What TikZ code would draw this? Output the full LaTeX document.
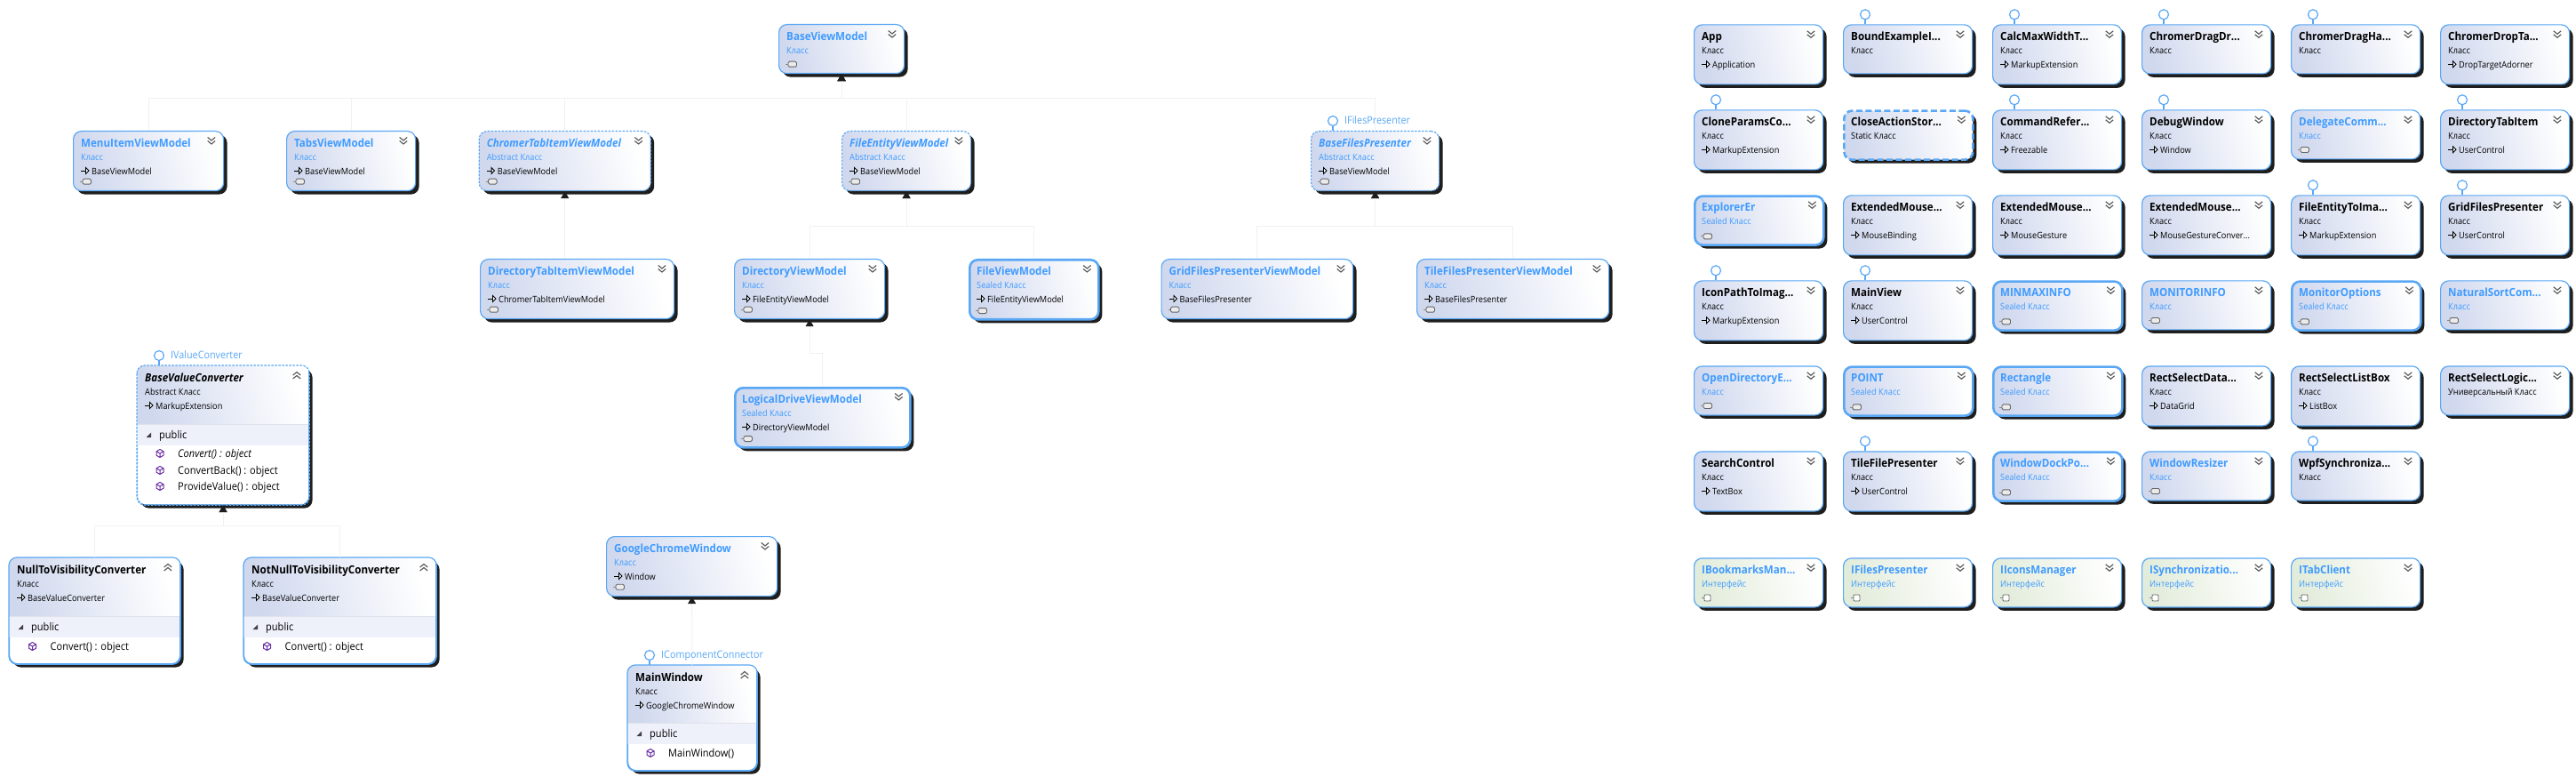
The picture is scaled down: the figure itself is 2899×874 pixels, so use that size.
\documentclass[tikz,border=0pt]{standalone}
\usepackage{fontspec}
\setmainfont[FakeStretch=0.92]{Open Sans}
\usetikzlibrary{shadows,arrows.meta}
\definecolor{bd}{HTML}{5AA8F5}
\definecolor{tblue}{HTML}{3F9BFF}
\definecolor{gradc}{HTML}{D0D8EE}
\definecolor{gradg}{HTML}{E2ECDA}
\definecolor{shad}{HTML}{1E1E1E}
\definecolor{band}{HTML}{EEF1FA}
\definecolor{sepl}{HTML}{E0E2E8}
\definecolor{connc}{HTML}{F0F1F3}
\definecolor{purp}{HTML}{6A2FA5}
\newcommand{\ftitle}{\fontsize{12.6}{15}\selectfont\bfseries}
\newcommand{\fsub}{\fontsize{10}{12}\selectfont}
\newcommand{\fmem}{\fontsize{12}{15}\selectfont}
\tikzset{
 x=1pt,y=-1pt,
 boxbase/.style={rectangle,rounded corners=9pt,draw=bd,inner sep=0pt,anchor=north west,
   general shadow={shadow xshift=4pt,shadow yshift=-4pt,fill=shad}},
 thinl/.style={draw=bd,line width=1.2pt},
 absl/.style={draw=bd,line width=1.2pt,dash pattern=on 2.5pt off 1.5pt},
 thinb/.style={boxbase,thinl},
 sealedb/.style={boxbase,line width=2.6pt},
 abstractb/.style={boxbase,absl},
 staticb/.style={boxbase,line width=2.6pt,dash pattern=on 7pt off 3.5pt},
 clsfill/.style={left color=gradc,right color=white,shading angle=105},
 ifcfill/.style={left color=gradg,right color=white,shading angle=105},
 blk/.style={text=black},
 blu/.style={text=tblue},
 ttl/.style={inner sep=0pt,anchor=base west,font=\ftitle},
 sub/.style={inner sep=0pt,anchor=base west,font=\fsub},
 mem/.style={inner sep=0pt,anchor=base west,font=\fmem,text=black},
 conn/.style={draw=connc,line width=1pt},
 inh/.style={conn,-{Triangle[length=8pt,width=9pt,color=shad,fill=shad]}},
 lolc/.style={circle,draw=bd,fill=white,line width=1.2pt,minimum size=11pt,inner sep=0pt},
 lolst/.style={draw=bd,line width=1.2pt},
 lollab/.style={inner sep=0pt,anchor=base west,font=\fontsize{11.7}{13}\selectfont,text=bd},
 chev/.style={draw=black!65,line width=1.15pt},
}
\newcommand{\ChevD}[1]{\begin{scope}[shift={(#1.north east)}]
 \draw[chev] (-18.5,7.5)--(-14.2,11)--(-10,7.5) (-18.5,11.5)--(-14.2,15)--(-10,11.5);\end{scope}}
\newcommand{\ChevU}[1]{\begin{scope}[shift={(#1.north east)}]
 \draw[chev] (-18.5,11)--(-14.2,7.5)--(-10,11) (-18.5,15)--(-14.2,11.5)--(-10,15);\end{scope}}
% #1 id, #2 x, #3 y, #4 w, #5 h, #6 box style, #7 text style, #8 title, #9 sub
\newcommand{\CB}[9]{%
 \node[#6,clsfill,minimum width=#4pt,minimum height=#5pt] (#1) at (#2,#3) {};
 \node[ttl,#7] (#1-t) at ([shift={(9pt,-18.5pt)}]#1.north west) {#8};
 \node[sub,#7] (#1-k) at ([shift={(9pt,-33.5pt)}]#1.north west) {#9};
 \ChevD{#1}}
\newcommand{\IB}[5]{%
 \node[thinb,ifcfill,minimum width=145pt,minimum height=55pt] (#1) at (#2,#3) {};
 \node[ttl,blu] (#1-t) at ([shift={(9pt,-18.5pt)}]#1.north west) {#4};
 \node[sub,blu] (#1-k) at ([shift={(9pt,-33.5pt)}]#1.north west) {#5};
 \ChevD{#1}
 \begin{scope}[shift={(#1.south west)}]
  \draw[black!45,line width=.8pt] (9,-11)--(12,-11);
  \draw[black!60,fill=white,line width=.9pt,rounded corners=1pt] (12,-14.5) rectangle (19,-7.5);
 \end{scope}}
% expanded: #1 id #2 x #3 y #4 w #5 h #6 line style #7 section y (relative) #8 title #9 sub
\newcommand{\EX}[9]{%
 \node[boxbase,#6,fill=white,minimum width=#4pt,minimum height=#5pt] (#1) at (#2,#3) {};
 \begin{scope}
  \clip[rounded corners=9pt] (#1.north west) rectangle (#1.south east);
  \begin{scope}[shift={(#1.north west)}]
   \shade[clsfill] (0,0) rectangle (#4,#7);
   \fill[band] (0,#7) rectangle (#4,#7+24);
   \draw[sepl,line width=1pt] (0,#7) -- (#4,#7);
  \end{scope}
 \end{scope}
 \draw[#6,rounded corners=9pt] (#1.north west) rectangle (#1.south east);
 \node[ttl,blk] (#1-t) at ([shift={(9pt,-18.5pt)}]#1.north west) {#8};
 \node[sub,blk] (#1-k) at ([shift={(9pt,-33.5pt)}]#1.north west) {#9};
 \node[mem] (#1-p) at ([shift={(25pt,{-(#7+16.5)*1pt})}]#1.north west) {public};
 \begin{scope}[shift={(#1.north west)}]
  \fill[black!75] (16,#7+9.5)--(16,#7+15)--(10.5,#7+15)--cycle;
 \end{scope}
 \ChevU{#1}}
\newcommand{\Inh}[2]{%
 \begin{scope}[shift={(#1.north west)}]
  \draw[black,line width=.9pt] (9,45) -- (15,45);
  \draw[black,fill=white,line width=.9pt] (14.5,41.5) -- (18,45) -- (14.5,48.5) -- cycle;
 \end{scope}
 \node[sub,blk] (#1-i) at ([shift={(21pt,-49.5pt)}]#1.north west) {#2};}
\newcommand{\Pkg}[1]{%
 \begin{scope}[shift={(#1.south west)}]
  \draw[black!45,line width=.8pt] (8,-11)--(11,-11);
  \draw[black!60,fill=black!8,line width=.9pt,rounded corners=1.5pt] (11,-14) rectangle (20.5,-8);
 \end{scope}}
\newcommand{\Lol}[1]{%
 \node[lolc] (#1-o) at ([shift={(25pt,11pt)}]#1.north west) {};
 \draw[lolst] (#1-o.south) -- (#1-o.south |- #1.north);}
\newcommand{\LolL}[2]{%
 \Lol{#1}
 \node[lollab] (#1-l) at ([shift={(13pt,-3.5pt)}]#1-o.center) {#2};}
\newcommand{\Mem}[5][]{%
 \begin{scope}[shift={(#2.north west)}]
  \begin{scope}[shift={(#3,#4)}]
  \draw[purp,line width=1pt,line join=round] (0,-4.5)--(4,-2.2)--(4,2.2)--(0,4.5)--(-4,2.2)--(-4,-2.2)--cycle (-4,-2.2)--(0,0)--(4,-2.2) (0,0)--(0,4.5);
  \end{scope}
 \end{scope}
 \node[mem,#1] (#2-m#4) at ([shift={({(#3+20)*1pt},{-(#4+4.5)*1pt})}]#2.north west) {#5};}
\begin{document}
\begin{tikzpicture}
\useasboundingbox (0,0) rectangle (2899,874);
\fill[white] (0,0) rectangle (2899,874);
\coordinate (bus1) at (0,111);
\coordinate (bus2) at (0,255);
\coordinate (bus3) at (0,397);
\coordinate (bus4) at (0,591);
% ===== view models =====
\CB{base}{876}{27}{141}{55}{thinb}{blu}{BaseViewModel}{Класс} \Pkg{base}
\CB{menu}{82}{147}{169}{67}{thinb}{blu}{MenuItemViewModel}{Класс} \Inh{menu}{BaseViewModel} \Pkg{menu}
\CB{tabs}{322}{147}{145}{67}{thinb}{blu}{TabsViewModel}{Класс} \Inh{tabs}{BaseViewModel} \Pkg{tabs}
\CB{chromer}{538.6}{147}{193}{67}{abstractb}{blu}{\textit{ChromerTabItemViewModel}}{Abstract Класс} \Inh{chromer}{BaseViewModel} \Pkg{chromer}
\CB{fent}{947}{147}{145}{67}{abstractb}{blu}{\textit{FileEntityViewModel}}{Abstract Класс} \Inh{fent}{BaseViewModel} \Pkg{fent}
\CB{bfp}{1475}{147}{144}{67}{abstractb}{blu}{\textit{BaseFilesPresenter}}{Abstract Класс} \Inh{bfp}{BaseViewModel} \Pkg{bfp}
\CB{dtab}{540}{291}{218}{67}{thinb}{blu}{DirectoryTabItemViewModel}{Класс} \Inh{dtab}{ChromerTabItemViewModel} \Pkg{dtab}
\CB{dvm}{826}{291}{169}{67}{thinb}{blu}{DirectoryViewModel}{Класс} \Inh{dvm}{FileEntityViewModel} \Pkg{dvm}
\CB{fvm}{1090}{291}{145}{67}{sealedb}{blu}{FileViewModel}{Sealed Класс} \Inh{fvm}{FileEntityViewModel} \Pkg{fvm}
\CB{gfp}{1306.5}{291}{215.5}{67}{thinb}{blu}{GridFilesPresenterViewModel}{Класс} \Inh{gfp}{BaseFilesPresenter} \Pkg{gfp}
\CB{tfp}{1594}{291}{216}{67}{thinb}{blu}{TileFilesPresenterViewModel}{Класс} \Inh{tfp}{BaseFilesPresenter} \Pkg{tfp}
\CB{ldvm}{826}{435}{197}{67}{sealedb}{blu}{LogicalDriveViewModel}{Sealed Класс} \Inh{ldvm}{DirectoryViewModel} \Pkg{ldvm}
\CB{gcw}{682}{603}{192}{67}{thinb}{blu}{GoogleChromeWindow}{Класс} \Inh{gcw}{Window} \Pkg{gcw}
% ===== expanded =====
\EX{bvc}{154}{411}{193}{156}{absl}{66}{\textit{BaseValueConverter}}{Abstract Класс} \Inh{bvc}{MarkupExtension}
\Mem[font=\fmem\itshape]{bvc}{26}{99}{Convert() : object}
\Mem{bvc}{26}{118}{ConvertBack() : object}
\Mem{bvc}{26}{136}{ProvideValue() : object}
\EX{ntv}{10}{627}{192}{119}{thinl}{66}{NullToVisibilityConverter}{Класс} \Inh{ntv}{BaseValueConverter}
\Mem{ntv}{26.5}{100}{Convert() : object}
\EX{nntv}{274}{627}{216}{119}{thinl}{66}{NotNullToVisibilityConverter}{Класс} \Inh{nntv}{BaseValueConverter}
\Mem{nntv}{26.5}{100}{Convert() : object}
\EX{mw}{706}{748}{145}{118}{thinl}{65}{MainWindow}{Класс} \Inh{mw}{GoogleChromeWindow}
\Mem{mw}{26}{99}{MainWindow()}
% ===== connectors =====
\draw[inh] (menu.north) |- (bus1 -| base.south) -- (base.south);
\draw[inh] (tabs.north) |- (bus1 -| base.south) -- (base.south);
\draw[inh] (chromer.north) |- (bus1 -| base.south) -- (base.south);
\draw[inh] (fent.north) |- (bus1 -| base.south) -- (base.south);
\draw[inh] (bfp.north) |- (bus1 -| base.south) -- (base.south);
\draw[inh] (dtab.north -| chromer.south) -- (chromer.south);
\draw[inh] (dvm.north) |- (bus2 -| fent.south) -- (fent.south);
\draw[inh] (fvm.north) |- (bus2 -| fent.south) -- (fent.south);
\draw[inh] (gfp.north) |- (bus2 -| bfp.south) -- (bfp.south);
\draw[inh] (tfp.north) |- (bus2 -| bfp.south) -- (bfp.south);
\draw[inh] (ldvm.north) |- (bus3 -| dvm.south) -- (dvm.south);
\draw[inh] (ntv.north) |- (bus4 -| bvc.south) -- (bvc.south);
\draw[inh] (nntv.north) |- (bus4 -| bvc.south) -- (bvc.south);
\draw[inh] (mw.north) -- (gcw.south);
\LolL{bfp}{IFilesPresenter}
\LolL{bvc}{IValueConverter}
\LolL{mw}{IComponentConnector}
% ===== grid =====
\CB{app}{1906}{27.3}{145}{67}{thinb}{blk}{App}{Класс} \Inh{app}{Application}
\CB{bound}{2074}{27.3}{145}{55}{thinb}{blk}{BoundExampleI...}{Класс} \Lol{bound}
\CB{calc}{2242}{27.3}{145}{67}{thinb}{blk}{CalcMaxWidthT...}{Класс} \Inh{calc}{MarkupExtension} \Lol{calc}
\CB{cdd}{2410}{27.3}{145}{55}{thinb}{blk}{ChromerDragDr...}{Класс} \Lol{cdd}
\CB{cdh}{2578}{27.3}{145}{55}{thinb}{blk}{ChromerDragHa...}{Класс} \Lol{cdh}
\CB{cdt}{2746}{27.3}{145}{67}{thinb}{blk}{ChromerDropTa...}{Класс} \Inh{cdt}{DropTargetAdorner}
\CB{clone}{1906}{123.3}{145}{67}{thinb}{blk}{CloneParamsCo...}{Класс} \Inh{clone}{MarkupExtension} \Lol{clone}
\CB{close}{2074}{123.3}{145}{55}{staticb}{blk}{CloseActionStor...}{Static Класс}
\CB{cmd}{2242}{123.3}{145}{67}{thinb}{blk}{CommandRefer...}{Класс} \Inh{cmd}{Freezable} \Lol{cmd}
\CB{dbg}{2410}{123.3}{145}{67}{thinb}{blk}{DebugWindow}{Класс} \Inh{dbg}{Window} \Lol{dbg}
\CB{dlg}{2578}{123.3}{145}{55}{thinb}{blu}{DelegateComm...}{Класс} \Pkg{dlg}
\CB{dti}{2746}{123.3}{145}{67}{thinb}{blk}{DirectoryTabItem}{Класс} \Inh{dti}{UserControl} \Lol{dti}
\CB{exer}{1906}{219.3}{145}{55}{sealedb}{blu}{ExplorerEr}{Sealed Класс} \Pkg{exer}
\CB{emb}{2074}{219.3}{145}{67}{thinb}{blk}{ExtendedMouse...}{Класс} \Inh{emb}{MouseBinding}
\CB{emg}{2242}{219.3}{145}{67}{thinb}{blk}{ExtendedMouse...}{Класс} \Inh{emg}{MouseGesture}
\CB{emc}{2410}{219.3}{145}{67}{thinb}{blk}{ExtendedMouse...}{Класс} \Inh{emc}{MouseGestureConver...}
\CB{feti}{2578}{219.3}{145}{67}{thinb}{blk}{FileEntityToIma...}{Класс} \Inh{feti}{MarkupExtension} \Lol{feti}
\CB{gfpc}{2746}{219.3}{145}{67}{thinb}{blk}{GridFilesPresenter}{Класс} \Inh{gfpc}{UserControl} \Lol{gfpc}
\CB{ipti}{1906}{315.3}{145}{67}{thinb}{blk}{IconPathToImag...}{Класс} \Inh{ipti}{MarkupExtension} \Lol{ipti}
\CB{mview}{2074}{315.3}{145}{67}{thinb}{blk}{MainView}{Класс} \Inh{mview}{UserControl} \Lol{mview}
\CB{mmi}{2242}{315.3}{145}{55}{sealedb}{blu}{MINMAXINFO}{Sealed Класс} \Pkg{mmi}
\CB{moni}{2410}{315.3}{145}{55}{thinb}{blu}{MONITORINFO}{Класс} \Pkg{moni}
\CB{mopt}{2578}{315.3}{145}{55}{sealedb}{blu}{MonitorOptions}{Sealed Класс} \Pkg{mopt}
\CB{nsc}{2746}{315.3}{145}{55}{thinb}{blu}{NaturalSortCom...}{Класс} \Pkg{nsc}
\CB{ode}{1906}{411.3}{145}{55}{thinb}{blu}{OpenDirectoryE...}{Класс} \Pkg{ode}
\CB{pnt}{2074}{411.3}{145}{55}{sealedb}{blu}{POINT}{Sealed Класс} \Pkg{pnt}
\CB{rct}{2242}{411.3}{145}{55}{sealedb}{blu}{Rectangle}{Sealed Класс} \Pkg{rct}
\CB{rsd}{2410}{411.3}{145}{67}{thinb}{blk}{RectSelectData...}{Класс} \Inh{rsd}{DataGrid}
\CB{rsl}{2578}{411.3}{145}{67}{thinb}{blk}{RectSelectListBox}{Класс} \Inh{rsl}{ListBox}
\CB{rsg}{2746}{411.3}{145}{55}{thinb}{blk}{RectSelectLogic...}{Универсальный Класс}
\CB{srch}{1906}{507.3}{145}{67}{thinb}{blk}{SearchControl}{Класс} \Inh{srch}{TextBox}
\CB{tfpc}{2074}{507.3}{145}{67}{thinb}{blk}{TileFilePresenter}{Класс} \Inh{tfpc}{UserControl} \Lol{tfpc}
\CB{wdp}{2242}{507.3}{145}{55}{sealedb}{blu}{WindowDockPo...}{Sealed Класс} \Pkg{wdp}
\CB{wrs}{2410}{507.3}{145}{55}{thinb}{blu}{WindowResizer}{Класс} \Pkg{wrs}
\CB{wpf}{2578}{507.3}{145}{55}{thinb}{blk}{WpfSynchroniza...}{Класс} \Lol{wpf}
\IB{ibm}{1906}{627.3}{IBookmarksMan...}{Интерфейс}
\IB{ifp}{2074}{627.3}{IFilesPresenter}{Интерфейс}
\IB{iic}{2242}{627.3}{IIconsManager}{Интерфейс}
\IB{isy}{2410}{627.3}{ISynchronizatio...}{Интерфейс}
\IB{itc}{2578}{627.3}{ITabClient}{Интерфейс}
\end{tikzpicture}
\end{document}
